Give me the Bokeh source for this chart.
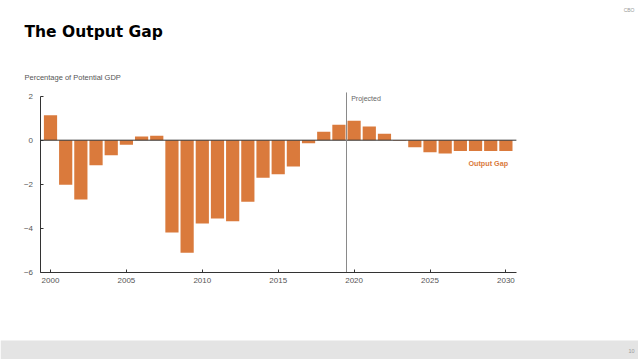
from bokeh.plotting import figure
from bokeh.models import Label, FixedTicker, Range1d, BoxAnnotation
from bokeh.embed import file_html
from bokeh.resources import INLINE

# ---- data ----
years = list(range(2000, 2031))
output_gap = [1.13, -2.03, -2.70, -1.14, -0.68, -0.21, 0.17, 0.20, -4.20, -5.12,
              -3.79, -3.56, -3.68, -2.80, -1.71, -1.55, -1.20, -0.14, 0.38, 0.70,
              0.88, 0.62, 0.29, -0.03, -0.32, -0.55, -0.60, -0.49, -0.49, -0.49, -0.49]
x_ticks = [2000, 2005, 2010, 2015, 2020, 2025, 2030]
y_ticks = [-6, -4, -2, 0, 2]
projection_start = 2019.5
x_lo, x_hi = 1999.31, 2030.69      # extent of the plotted axes
y_lo, y_hi = -6, 2

BAR = "#da7a3c"
TXT = "#555555"
FONT = "Liberation Sans"
W, H = 638, 359

# frame covers the whole canvas; axes are pinned at fixed data locations
p = figure(width=W, height=H, output_backend="svg", toolbar_location=None,
           x_range=Range1d(1996.706, 2038.735), y_range=Range1d(-9.968, 6.35),
           min_border=0)
p.outline_line_color = None
p.grid.visible = False
p.background_fill_color = "white"
p.border_fill_color = "white"

p.vbar(x=years, top=output_gap, bottom=0, width=0.87, fill_color=BAR, line_color=None)
p.segment(x0=[x_lo], y0=[0], x1=[x_hi], y1=[0], line_color="#333333", line_width=1)
p.segment(x0=[projection_start], y0=[y_lo], x1=[projection_start], y1=[y_hi + 0.17],
          line_color="#8a8a8a", line_width=1)

xa, ya = p.xaxis[0], p.yaxis[0]
xa.fixed_location = y_lo
ya.fixed_location = x_lo
xa.bounds = (x_lo, x_hi)
ya.bounds = (y_lo, y_hi)
for ax, ticks in ((xa, x_ticks), (ya, y_ticks)):
    ax.ticker = FixedTicker(ticks=ticks)
    ax.axis_line_color = "#333333"
    ax.major_tick_line_color = "#333333"
    ax.major_tick_in = 3
    ax.major_tick_out = 0
    ax.minor_tick_line_color = None
    ax.major_label_text_font = FONT
    ax.major_label_text_font_size = "8px"
    ax.major_label_text_color = TXT
xa.major_label_standoff = 6
ya.major_label_standoff = 7
ya.major_label_overrides = {t: (str(t) if t >= 0 else "\u2212" + str(-t)) for t in y_ticks}
xa.major_label_overrides = {t: str(t) for t in x_ticks}


def label(text, x, y, size, color=TXT, style="normal", align="left", font=FONT):
    # screen units: pixels from the canvas' bottom-left corner
    p.add_layout(Label(x=x, y=y, x_units="screen", y_units="screen", text=text,
                       text_font=font, text_font_size=size, text_color=color,
                       text_font_style=style, text_align=align,
                       text_baseline="middle"))


p.add_layout(BoxAnnotation(left=0, right=W, bottom=0, top=19,
                           left_units="screen", right_units="screen",
                           top_units="screen", bottom_units="screen",
                           fill_color="#e4e4e4", fill_alpha=1, line_color=None,
                           level="underlay"))

label("The Output Gap", 24, 327.5, "15.5px", color="#000000", style="bold",
      font="DejaVu Sans")
label("Percentage of Potential GDP", 24, 281.7, "7.5px")
label("CBO", 634, 350, "5px", color="#999999", align="right")
label("Projected", 350.7, 261.2, "7px", color="#666666")
label("Output Gap", 468, 196.3, "7.2px", color=BAR, style="bold")
label("10", 634, 8.5, "5.5px", color="#999999", align="right")

open("out.html", "w").write(file_html(p, INLINE))
